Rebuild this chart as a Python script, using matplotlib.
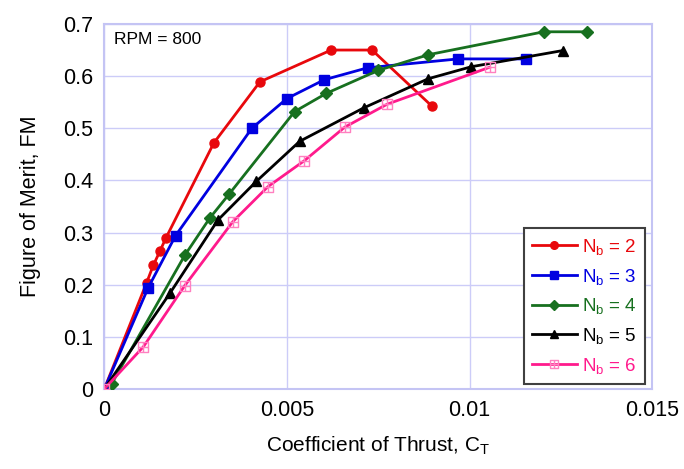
import matplotlib
matplotlib.use("Agg")
import matplotlib.pyplot as plt
from matplotlib.path import Path

plt.rcParams['font.family'] = ['Liberation Sans', 'DejaVu Sans']
plt.rcParams['mathtext.fontset'] = 'custom'
plt.rcParams['mathtext.rm'] = 'Liberation Sans'
plt.rcParams['mathtext.it'] = 'Liberation Sans'
plt.rcParams['mathtext.bf'] = 'Liberation Sans'

# Data
ct_nb2 = [0.0, 0.00116, 0.00134, 0.00152, 0.00169, 0.0030, 0.00426, 0.00621, 0.00733, 0.00896]
fm_nb2 = [0.0, 0.204, 0.237, 0.264, 0.290, 0.472, 0.589, 0.650, 0.650, 0.543]

ct_nb3 = [0.0, 0.0012, 0.00195, 0.00404, 0.0050, 0.00602, 0.00721, 0.00969, 0.01154]
fm_nb3 = [0.0, 0.194, 0.294, 0.500, 0.557, 0.593, 0.616, 0.633, 0.633]

ct_nb4 = [0.0002, 0.0022, 0.00289, 0.00342, 0.00521, 0.00608, 0.0075, 0.00887, 0.01203, 0.01322]
fm_nb4 = [0.010, 0.256, 0.328, 0.374, 0.532, 0.567, 0.611, 0.641, 0.685, 0.685]

ct_nb5 = [0.0, 0.0018, 0.00311, 0.00416, 0.00535, 0.0071, 0.00887, 0.01005, 0.01255]
fm_nb5 = [0.0, 0.184, 0.324, 0.398, 0.475, 0.539, 0.595, 0.618, 0.649]

ct_nb6 = [0.0, 0.00107, 0.0022, 0.00352, 0.00448, 0.00548, 0.00658, 0.00774, 0.01055]
fm_nb6 = [0.0, 0.081, 0.198, 0.321, 0.388, 0.438, 0.502, 0.546, 0.617]

labels = ['2', '3', '4', '5', '6']
x_ticks = [0, 0.005, 0.01, 0.015]
x_ticklabels = ['0', '0.005', '0.01', '0.015']
y_ticks = [0, 0.1, 0.2, 0.3, 0.4, 0.5, 0.6, 0.7]
y_ticklabels = ['0', '0.1', '0.2', '0.3', '0.4', '0.5', '0.6', '0.7']

# square with a cross marker
box_plus = Path(
    [(-1, -1), (1, -1), (1, 1), (-1, 1), (-1, -1),
     (0, -1), (0, 1), (-1, 0), (1, 0)],
    [Path.MOVETO, Path.LINETO, Path.LINETO, Path.LINETO, Path.LINETO,
     Path.MOVETO, Path.LINETO, Path.MOVETO, Path.LINETO])

fig = plt.figure(figsize=(6.84, 4.69), dpi=100)
ax = fig.add_axes([0.1525, 0.1706, 0.801, 0.7783])

red = '#e8080c'
blue = '#0000e0'
green = '#17701f'
black = '#000000'
pink = '#ff1a8c'

series = [
    (ct_nb2, fm_nb2, red, dict(marker='o', ms=6.5, mfc=red, mec=red)),
    (ct_nb3, fm_nb3, blue, dict(marker='s', ms=6.5, mfc=blue, mec=blue)),
    (ct_nb4, fm_nb4, green, dict(marker='D', ms=6, mfc=green, mec=green)),
    (ct_nb5, fm_nb5, black, dict(marker='^', ms=6.5, mfc=black, mec=black)),
    (ct_nb6, fm_nb6, pink, dict(marker=box_plus, ms=7, mfc='none', mec='#ff80c0', mew=1.0)),
]
for (x, y, c, mk), lab in zip(series, labels):
    ax.plot(x, y, color=c, lw=2.0, label=r'N$_\mathregular{b}$ = ' + lab, **mk, zorder=3)

ax.set_xlim(0, 0.015)
ax.set_ylim(0, 0.7)
ax.set_xticks(x_ticks)
ax.set_xticklabels(x_ticklabels)
ax.set_yticks(y_ticks)
ax.set_yticklabels(y_ticklabels)
ax.tick_params(length=0, labelsize=15.5, pad=8)
ax.grid(True, color='#ccccf8', lw=1.0)
ax.set_axisbelow(True)
for s in ax.spines.values():
    s.set_color('#c4c4f4')
    s.set_linewidth(1.5)

ax.set_xlabel(r'Coefficient of Thrust, C$_\mathregular{T}$', fontsize=15, labelpad=10)
ax.set_ylabel('Figure of Merit, FM', fontsize=15.5, labelpad=16)

ax.text(0.00027, 0.671, 'RPM = 800', fontsize=12.5, va='center', ha='left')

leg = ax.legend(loc='lower right', bbox_to_anchor=(0.9875, 0.013), fontsize=13.5,
                fancybox=False, framealpha=1, edgecolor='#404040',
                handlelength=2.35, handletextpad=0.3, labelspacing=0.52,
                borderpad=0.45, borderaxespad=0)
leg.get_frame().set_linewidth(1.5)
for txt, (x, y, c, mk) in zip(leg.get_texts(), series):
    txt.set_color(c)
for h in leg.legend_handles:
    h.set_markersize(5.5)

fig.savefig('out.png', dpi=100)
